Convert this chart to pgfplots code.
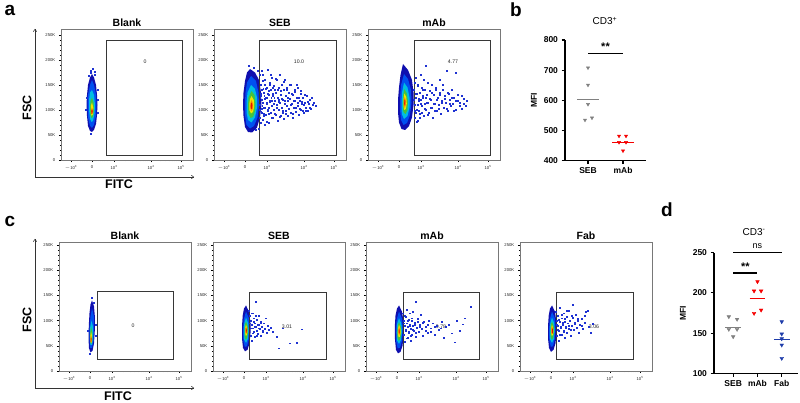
\documentclass[border=0pt]{standalone}
\usepackage{pgfplots}
\pgfplotsset{compat=1.18}
\usetikzlibrary{arrows.meta}
\usepackage{fontspec}
\setmainfont{Liberation Sans}

\definecolor{lv1}{RGB}{15,15,175}
\definecolor{lv2}{RGB}{0,80,240}
\definecolor{lv3}{RGB}{0,190,225}
\definecolor{lv4}{RGB}{70,195,60}
\definecolor{lv5}{RGB}{240,230,0}
\definecolor{lv6}{RGB}{255,140,0}
\definecolor{lv7}{RGB}{225,20,0}
\definecolor{dotb}{RGB}{30,50,210}
\definecolor{frame}{RGB}{120,120,120}
\definecolor{gate}{RGB}{55,55,55}
\definecolor{ptgray}{RGB}{128,128,128}
\definecolor{ptred}{RGB}{245,0,0}
\definecolor{ptblue}{RGB}{30,60,170}

\tikzset{glab/.style={font=\fontsize{5.2}{6}\selectfont, text=black!85}}

\pgfplotsset{
  flow/.style={
    width=132pt, scale only axis, xmin=0, xmax=132, ymin=0,
    axis line style={draw=frame, line width=0.5pt},
    xtick={10,31,53,90,120},
    xticklabels={$-$10\textsuperscript{3},0,10\textsuperscript{3},10\textsuperscript{4},10\textsuperscript{5}},
    minor xtick={13,16,19,21,23,25,26.5,28,29,30,32,33,34,35.5,37,39,41,43,46,49,64.1,70.7,75.3,78.9,81.8,84.3,86.4,88.3,99,104.3,108,111,113.3,115.4,117.1,118.6},
    ytick={0,50,100,150,200,250},
    yticklabels={0,50K,100K,150K,200K,250K},
    minor y tick num=4,
    tick label style={font=\fontsize{4.2}{4.5}\selectfont, color=black!85},
    tick style={black, line width=0.35pt},
    major tick length=2.2pt, minor tick length=1.2pt,
    tick align=outside, xtick pos=bottom, ytick pos=left,
    title style={font=\bfseries\fontsize{10.5}{11}\selectfont, anchor=base, yshift=-4pt},
  },
  gt/.style={draw=gate, line width=0.8pt},
  c1/.style={draw=none, fill=lv1},
  c2/.style={draw=none, fill=lv2},
  c3/.style={draw=none, fill=lv3},
  c4/.style={draw=none, fill=lv4},
  c5/.style={draw=none, fill=lv5},
  c6/.style={draw=none, fill=lv6},
  c7/.style={draw=none, fill=lv7},
  dots/.style={only marks, color=dotb, mark=square*, mark size=0.32pt, mark options={draw=none, fill=dotb, fill opacity=0.6}},
  mfi/.style={
    scale only axis, clip=false,
    axis x line*=bottom, axis y line*=left,
    axis line style={line width=1.1pt, -},
    tick style={black, line width=1.1pt}, major tick length=3.5pt, tick align=outside,
    tick label style={font=\bfseries\fontsize{8.5}{9}\selectfont},
    /pgf/number format/assume math mode=true,
    ylabel={MFI}, ylabel style={font=\bfseries\fontsize{8.5}{9}\selectfont},
  },
}

\begin{document}
\begin{tikzpicture}
\path[use as bounding box] (0,0) rectangle (800pt,-403pt);

% ---------------- row a ----------------
\begin{axis}[flow, at={(61pt,-29pt)}, anchor=north west, height=131pt, ymax=262, title={Blank}]
\addplot[c1] coordinates {(31,172)(33,165)(35,150)(36,130)(36.5,110)(36,90)(35,72)(33,60)(31,56)(29,58)(27,68)(26,88)(25.5,110)(26,130)(27,150)(29,165)(31,172)};
\addplot[c2] coordinates {(31,160)(33,150)(35,130)(35.5,110)(35,88)(33,70)(31,64)(29,68)(27,85)(26.5,110)(27,130)(29,150)(31,160)};
\addplot[c3] coordinates {(31,140)(33,130)(34,110)(33.5,92)(32,78)(30.5,76)(29,82)(28,100)(28,120)(29,135)(31,140)};
\addplot[c4] coordinates {(31,125)(32.6,115)(33,100)(32,86)(30.5,84)(29.3,90)(29,105)(29.5,118)(31,125)};
\addplot[c5] coordinates {(31,115)(32.3,105)(32,92)(30.8,88)(29.8,94)(29.8,108)(31,115)};
\addplot[c7] coordinates {(31,104)(31.8,98)(31.3,92)(30.5,92)(30.2,98)(31,104)};
\addplot[dots] coordinates {(30,178)(32,182)(34,170)(28,168)(37,120)(37,95)(25,100)(30,52)(33.5,176)(29.5,174)(36.5,140)(25.5,125)};
\addplot[gt] coordinates {(45,10)(121,10)(121,240)(45,240)(45,10)};
\node[glab] at (axis cs:84,196) {0};
\end{axis}

\begin{axis}[flow, at={(214pt,-29pt)}, anchor=north west, height=131pt, ymax=262, title={SEB}]
\addplot[c1] coordinates {(36,182)(41,175)(45,160)(47,135)(47.5,110)(46,85)(43,65)(38,55)(34,56)(31,66)(29.5,88)(29,110)(29.5,135)(31,158)(33,175)(36,182)};
\addplot[c2] coordinates {(37,168)(42,158)(44.5,135)(45,110)(43.5,85)(40,68)(36,63)(32.5,70)(31,90)(30.8,110)(31.5,135)(33,155)(37,168)};
\addplot[c3] coordinates {(37,150)(41,142)(43,125)(43,105)(41,85)(37.5,75)(34,80)(32.5,95)(32.5,115)(33.5,135)(37,150)};
\addplot[c4] coordinates {(37.5,138)(40.5,130)(41.5,115)(41,98)(39,86)(36.5,84)(34.5,92)(34,108)(34.5,125)(37.5,138)};
\addplot[c5] coordinates {(37.5,128)(39.8,120)(40.2,107)(39,96)(37,93)(35.5,99)(35.3,112)(36,122)(37.5,128)};
\addplot[c6] coordinates {(37.5,120)(39,113)(39,103)(37.5,98)(36.3,103)(36.3,113)(37.5,120)};
\addplot[c7] coordinates {(37.5,115)(38.4,110)(38,103)(37.2,102)(36.6,106)(36.8,112)(37.5,115)};
\addplot[dots] coordinates {
(47,150)(48,120)(48,95)(49,170)(49,80)(50,135)(50,105)(51,160)(51,70)(52,125)(52,90)(53,145)(53,112)(54,180)(54,100)(55,130)(55,75)(56,155)(56,118)(57,95)(57,140)(58,108)(58,165)(59,85)(59,128)(60,148)(60,100)
(61,118)(62,135)(62,90)(63,160)(63,110)(64,78)(64,125)(65,145)(65,100)(66,170)(66,115)(67,88)(67,130)(68,105)(68,150)(69,120)(69,95)(70,140)(70,82)(71,112)(71,160)(72,128)(72,98)(73,145)(73,108)(74,118)(74,88)(75,135)(75,102)
(76,122)(77,95)(77,150)(78,112)(79,130)(79,85)(80,105)(81,140)(81,118)(82,96)(83,125)(84,108)(84,145)(85,90)(86,118)(87,132)(87,100)(88,112)(89,125)(90,95)
(91,115)(92,105)(93,128)(94,98)(95,112)(96,120)(97,102)(99,110)
(40,185)(35,188)(44,178)(42,60)(45,62)(48,140)(49,115)(50,88)(51,150)(46,100)(47,128)(53,125)(55,105)(58,118)(61,140)(65,120)
(46.5,132)(47.5,102)(48.5,158)(49.5,92)(50.5,122)(51.5,142)(52.5,76)(53.5,98)(54.5,138)(55.5,116)(56.5,170)(57.5,84)(58.5,132)(59.5,112)(60.5,92)(61.5,162)(62.5,104)(63.5,140)(64.5,116)(65.5,86)(66.5,138)(67.5,122)(68.5,98)(69.5,156)(70.5,118)(71.5,92)(72.5,140)(73.5,124)(74.5,102)(75.5,150)(76.5,110)(77.5,132)(78.5,92)(79.5,118)(80.5,136)(81.5,104)(82.5,150)(83.5,114)(84.5,124)(85.5,102)(86.5,138)(87.5,116)(88.5,98)(89.5,110)(90.5,130)(91.5,98)(93.5,116)(95.5,104)(97.5,124)(100,115)(102,108)
(45.5,85)(46,170)(46.5,75)(47.5,178)(45.8,110)(46.2,125)(47.2,96)(48.2,108)(49.3,142)(50.2,128)(51.3,104)(52.4,115)(53.6,132)(54.7,92)(55.6,150)(57.3,125)(58.7,145)(60.3,125)};
\addplot[gt] coordinates {(45,10)(122,10)(122,240)(45,240)(45,10)};
\node[glab] at (axis cs:85,196) {10.0};
\end{axis}

\begin{axis}[flow, at={(368pt,-29pt)}, anchor=north west, height=131pt, ymax=262, title={mAb}]
\addplot[c1] coordinates {(35,192)(40,180)(44,160)(45.5,135)(45.5,110)(44,85)(41,68)(37,60)(33.5,62)(31,75)(30,95)(30,120)(31,145)(32.5,170)(35,192)};
\addplot[c2] coordinates {(36,172)(40,162)(43,140)(43.5,115)(42,90)(39,74)(35.5,70)(33,80)(32,100)(32,125)(33,150)(36,172)};
\addplot[c3] coordinates {(36,155)(39.5,145)(41.5,125)(41.5,105)(39.5,88)(36,82)(33.8,92)(33.5,112)(34,135)(36,155)};
\addplot[c4] coordinates {(36.3,142)(38.8,133)(40,118)(39.5,100)(37.5,92)(35.3,96)(34.8,112)(35.2,130)(36.3,142)};
\addplot[c5] coordinates {(36.3,133)(38.3,126)(38.8,113)(37.8,102)(36.2,100)(35.5,108)(35.6,122)(36.3,133)};
\addplot[c6] coordinates {(36.5,126)(37.8,120)(37.8,110)(36.6,104)(35.9,110)(36,120)(36.5,126)};
\addplot[c7] coordinates {(36.6,122)(37.3,117)(37.1,110)(36.4,109)(36.2,114)(36.6,122)};
\addplot[dots] coordinates {
(46,140)(47,110)(47,85)(48,165)(48,125)(49,100)(50,150)(50,78)(51,118)(52,135)(52,92)(53,170)(54,108)(54,145)(55,125)(56,88)(57,140)(57,112)(58,188)(58,100)(59,130)(60,155)(60,115)(61,95)(62,138)(63,120)(64,105)(64,150)(65,85)(66,130)(67,112)(68,145)(69,98)(70,125)(71,110)(72,160)(72,135)(73,92)(74,118)(75,140)(76,105)(77,128)(78,115)(79,178)(80,98)(81,132)(82,120)(83,108)(84,140)(85,112)(86,125)(88,175)(88,100)(90,118)(92,108)(94,128)(96,112)(99,118)
(46,120)(47,155)(48,95)(49,132)(50,110)(51,98)(53,120)(55,140)
(46.5,98)(47.5,132)(48.5,76)(49.5,148)(50.5,122)(51.5,85)(52.5,112)(53.5,95)(54.5,128)(55.5,160)(56.5,102)(57.5,125)(58.5,115)(59.5,90)(61.5,122)(62.5,105)(63.5,135)(65.5,112)(66.5,98)(67.5,140)(68.5,120)(70.5,102)(71.5,130)(73.5,115)(74.5,150)(76.5,122)(78.5,102)(79.5,135)(81.5,112)(83.5,125)(85.5,98)(87.5,118)(89.5,130)(91.5,115)(93.5,102)(95.5,122)(97.5,108)};
\addplot[gt] coordinates {(46,10)(122,10)(122,240)(46,240)(46,10)};
\node[glab] at (axis cs:85,196) {4.77};
\end{axis}

% ---------------- row c ----------------
\begin{axis}[flow, at={(59pt,-242pt)}, anchor=north west, height=129pt, ymax=256, title={Blank}]
\addplot[c1] coordinates {(33,140)(35,128)(36,105)(35.8,80)(35,55)(33.5,40)(31.5,37)(30,45)(29.5,65)(29.8,90)(30.5,115)(31.5,132)(33,140)};
\addplot[c2] coordinates {(33,125)(34.8,110)(35,85)(34.5,60)(33,46)(31.2,46)(30.5,62)(30.5,85)(31.5,108)(33,125)};
\addplot[c3] coordinates {(32.5,100)(34,88)(34,68)(33,52)(31.5,52)(30.8,66)(31,85)(32.5,100)};
\addplot[c4] coordinates {(32,88)(33.5,76)(33.4,60)(32.3,53)(31.2,58)(31.1,72)(32,88)};
\addplot[c5] coordinates {(32,78)(33,70)(32.8,58)(32,55)(31.3,60)(31.4,70)(32,78)};
\addplot[c7] coordinates {(32,70)(32.6,64)(32.4,58)(31.8,57)(31.5,62)(32,70)};
\addplot[dots] coordinates {(33,146)(34.5,136)(36.5,92)(36.5,70)(29,80)(31,34)};
\addplot[gt] coordinates {(38,23)(114,23)(114,157)(38,157)(38,23)};
\node[glab] at (axis cs:74,89) {0};
\end{axis}

\begin{axis}[flow, at={(213pt,-242pt)}, anchor=north west, height=129pt, ymax=256, title={SEB}]
\addplot[c1] coordinates {(33,130)(36,118)(37.5,95)(37.5,75)(36.5,55)(34.5,42)(32,39)(30,46)(29,65)(29,88)(29.7,110)(31,124)(33,130)};
\addplot[c2] coordinates {(33,118)(35.8,105)(36.5,85)(35.8,63)(34,49)(31.8,48)(30.3,60)(30,82)(30.7,102)(33,118)};
\addplot[c3] coordinates {(33,106)(35.2,95)(35.7,80)(34.8,63)(33,56)(31.2,62)(30.8,78)(31.3,95)(33,106)};
\addplot[c4] coordinates {(33,98)(34.7,89)(35,77)(34.2,66)(32.8,62)(31.6,68)(31.5,82)(31.9,92)(33,98)};
\addplot[c5] coordinates {(33,92)(34.2,85)(34.3,76)(33.5,70)(32.6,70)(32,77)(32.2,86)(33,92)};
\addplot[c7] coordinates {(33,87)(33.8,82)(33.7,76)(33,74)(32.5,78)(32.6,84)(33,87)};
\addplot[dots] coordinates {(36,120)(37,110)(38,100)(38,70)(39,92)(39,60)(40,85)(40,115)(41,78)(41,105)(42,95)(42,68)(43,88)(43,137)(44,80)(44,102)(45,74)(46,92)(46,110)(47,84)(48,98)(48,70)(49,88)(50,78)(51,95)(52,84)(53,105)(54,76)(55,90)(56,82)(58,86)(60,78)(64,68)(66,45)(70,85)(77,55)(84,56)(89,83)
(36.5,95)(37.5,85)(38.5,115)(39.5,75)(40.5,98)(41.5,88)(42.5,110)(43.5,70)(44.5,92)(45.5,85)(47.5,95)(49.5,80)};
\addplot[gt] coordinates {(36,24)(113,24)(113,156)(36,156)(36,24)};
\node[glab] at (axis cs:74,88) {3.01};
\end{axis}

\begin{axis}[flow, at={(366pt,-242pt)}, anchor=north west, height=129pt, ymax=256, title={mAb}]
\addplot[c1] coordinates {(33,130)(36,118)(37.8,95)(37.8,72)(36.5,50)(34.5,38)(32,35)(30,42)(29,62)(28.8,88)(29.5,110)(31,124)(33,130)};
\addplot[c2] coordinates {(33,118)(36,104)(36.8,84)(36,60)(34,46)(31.7,45)(30.2,58)(29.9,82)(30.6,102)(33,118)};
\addplot[c3] coordinates {(33,105)(35.4,94)(35.9,78)(35,62)(33,54)(31.2,60)(30.7,76)(31.2,94)(33,105)};
\addplot[c4] coordinates {(33,97)(34.8,88)(35.2,76)(34.4,64)(32.8,60)(31.5,66)(31.4,80)(31.9,91)(33,97)};
\addplot[c5] coordinates {(33,92)(34.4,85)(34.6,75)(33.8,68)(32.6,67)(31.9,74)(32.1,85)(33,92)};
\addplot[c6] coordinates {(33,88)(34,82)(34,75)(33.3,71)(32.5,73)(32.5,81)(33,88)};
\addplot[c7] coordinates {(33,84)(33.6,80)(33.5,75)(33,74)(32.6,77)(32.7,82)(33,84)};
\addplot[dots] coordinates {(37,115)(38,100)(38,72)(39,90)(39,58)(40,108)(40,82)(41,122)(41,95)(42,66)(42,88)(43,102)(43,76)(44,115)(44,92)(45,84)(45,60)(46,100)(46,72)(47,90)(47,118)(48,80)(49,96)(50,138)(50,68)(51,86)(52,104)(53,78)(54,92)(55,112)(56,84)(57,70)(58,98)(60,88)(62,76)(63,100)(65,85)(67,95)(69,72)(71,90)(73,82)(76,98)(78,66)(80,88)(83,92)(86,75)(89,57)(91,100)(94,80)(97,93)(99,105)(105,128)
(37.5,95)(38.5,110)(39.5,80)(40.5,65)(41.5,100)(42.5,78)(43.5,90)(44.5,70)(45.5,105)(46.5,82)(48.5,92)(49.5,76)(51.5,98)(53.5,88)(56.5,96)(59.5,80)(61.5,92)(64.5,78)(68.5,88)(74.5,85)};
\addplot[gt] coordinates {(37,24)(113,24)(113,156)(37,156)(37,24)};
\node[glab] at (axis cs:75,88) {9.78};
\end{axis}

\begin{axis}[flow, at={(520pt,-242pt)}, anchor=north west, height=129pt, ymax=256, title={Fab}]
\addplot[c1] coordinates {(32,130)(35,118)(36.5,95)(36.5,75)(35.5,55)(33.5,42)(31,38)(29,46)(28,65)(28,88)(28.7,110)(30,124)(32,130)};
\addplot[c2] coordinates {(32,118)(34.8,105)(35.5,85)(34.8,63)(33,49)(30.8,48)(29.3,60)(29,82)(29.7,102)(32,118)};
\addplot[c3] coordinates {(32,106)(34.2,95)(34.7,80)(33.8,63)(32,56)(30.2,62)(29.8,78)(30.3,95)(32,106)};
\addplot[c4] coordinates {(32,98)(33.7,89)(34,77)(33.2,66)(31.8,62)(30.6,68)(30.5,82)(30.9,92)(32,98)};
\addplot[c5] coordinates {(32,92)(33.2,85)(33.3,76)(32.5,70)(31.6,70)(31,77)(31.2,86)(32,92)};
\addplot[c7] coordinates {(32,88)(32.9,82)(32.8,76)(32,73)(31.5,77)(31.6,84)(32,88)};
\addplot[dots] coordinates {(36,118)(37,100)(37,70)(38,90)(38,110)(39,80)(39,60)(40,98)(40,125)(41,86)(42,105)(42,72)(43,92)(44,115)(44,80)(45,98)(45,66)(46,88)(47,108)(47,76)(48,95)(49,120)(49,84)(50,100)(51,70)(52,90)(53,132)(53,106)(54,82)(55,96)(56,112)(57,86)(58,100)(59,76)(60,92)(62,104)(63,84)(65,96)(66,118)(68,120)(69,88)(71,76)(73,94)
(36.5,92)(37.5,82)(38.5,102)(39.5,72)(40.5,88)(41.5,112)(42.5,96)(43.5,78)(44.5,104)(45.5,86)(46.5,120)(48.5,90)(50.5,82)(51.5,110)(54.5,94)(57.5,104)(61.5,90)(64.5,110)};
\addplot[gt] coordinates {(36,24)(113,24)(113,156)(36,156)(36,24)};
\node[glab] at (axis cs:74,88) {3.06};
\end{axis}

% ---------------- panel b ----------------
\begin{axis}[mfi, at={(565pt,-160.7pt)}, anchor=south west, width=81pt, height=120.7pt,
  xmin=0.343, xmax=2.657, ymin=400, ymax=800,
  xtick={1,2}, xticklabels={SEB,mAb}, ytick={400,500,600,700,800}]
\addplot[only marks, mark=triangle*, mark size=1.9pt, color=ptgray, mark options={rotate=180}] coordinates {(1,708)(1,651)(1,587)(0.914,535)(1.114,542)};
\addplot[ptgray, line width=0.9pt] coordinates {(0.686,603.5)(1.314,603.5)};
\addplot[only marks, mark=triangle*, mark size=1.9pt, color=ptred, mark options={rotate=180}] coordinates {(1.886,482)(2.086,482)(1.886,461)(2.086,461)(2,433)};
\addplot[ptred, line width=0.9pt] coordinates {(1.686,461)(2.314,461)};
\addplot[black, line width=1.1pt] coordinates {(1,754)(2,754)};
\node[font=\bfseries\fontsize{11}{11}\selectfont, anchor=south] at (axis cs:1.5,752) {**};
\end{axis}

% ---------------- panel d ----------------
\begin{axis}[mfi, at={(714pt,-373.3pt)}, anchor=south west, width=84pt, height=120.6pt,
  xmin=0.21, xmax=3.67, ymin=100, ymax=250,
  xtick={1,2,3}, xticklabels={SEB,mAb,Fab}, ytick={100,150,200,250}]
\addplot[only marks, mark=triangle*, mark size=2.1pt, color=ptgray, mark options={rotate=180}] coordinates {(0.82,170.4)(1.16,167.2)(0.82,154.7)(1.16,154.7)(1,145.5)};
\addplot[ptgray, line width=0.9pt] coordinates {(0.68,157.6)(1.34,157.6)};
\addplot[only marks, mark=triangle*, mark size=2.1pt, color=ptred, mark options={rotate=180}] coordinates {(2,214)(1.86,202.4)(2.15,202.4)(2.15,178.7)(1.86,174.6)};
\addplot[ptred, line width=0.9pt] coordinates {(1.68,193.7)(2.32,193.7)};
\addplot[only marks, mark=triangle*, mark size=2.1pt, color=ptblue, mark options={rotate=180}] coordinates {(3,164.2)(3,148.9)(3,143)(3,135.2)(3,118.6)};
\addplot[ptblue, line width=0.9pt] coordinates {(2.68,142.3)(3.32,142.3)};
\addplot[black, line width=1.1pt] coordinates {(1,224.7)(2,224.7)};
\addplot[black, line width=1.1pt] coordinates {(1,250)(3,250)};
\node[font=\bfseries\fontsize{11}{11}\selectfont, anchor=south] at (axis cs:1.5,223) {**};
\node[font=\fontsize{9}{9}\selectfont, anchor=south] at (axis cs:2,251) {ns};
\end{axis}

% ---------------- decorations ----------------
\draw[gray!40!black, line width=0.5pt, -{To[length=3pt,width=4pt]}] (35pt,-177pt) -- (35pt,-29pt);
\draw[gray!40!black, line width=0.5pt, -{To[length=3pt,width=4pt]}] (35pt,-177pt) -- (194pt,-177pt);
\draw[gray!40!black, line width=0.5pt, -{To[length=3pt,width=4pt]}] (35pt,-388pt) -- (35pt,-239pt);
\draw[gray!40!black, line width=0.5pt, -{To[length=3pt,width=4pt]}] (35pt,-388pt) -- (194pt,-388pt);
\node[font=\bfseries\fontsize{12.5}{13}\selectfont, rotate=90] at (27pt,-108pt) {FSC};
\node[font=\bfseries\fontsize{12.5}{13}\selectfont] at (119pt,-184pt) {FITC};
\node[font=\bfseries\fontsize{12.5}{13}\selectfont, rotate=90] at (27pt,-320pt) {FSC};
\node[font=\bfseries\fontsize{12.5}{13}\selectfont] at (118pt,-396pt) {FITC};
\node[font=\bfseries\fontsize{19}{19}\selectfont] at (10pt,-10pt) {a};
\node[font=\bfseries\fontsize{19}{19}\selectfont] at (516pt,-10pt) {b};
\node[font=\bfseries\fontsize{19}{19}\selectfont] at (10pt,-221pt) {c};
\node[font=\bfseries\fontsize{19}{19}\selectfont] at (667pt,-210pt) {d};
\node[font=\fontsize{10}{10}\selectfont] at (754pt,-232pt) {CD3\textsuperscript{-}};
\node[font=\fontsize{10}{10}\selectfont] at (605pt,-21pt) {CD3\textsuperscript{+}};
\end{tikzpicture}
\end{document}
